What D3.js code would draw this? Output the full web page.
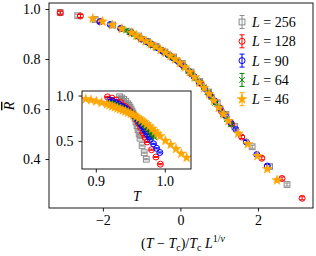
<!DOCTYPE html>
<html><head><meta charset="utf-8">
<script src="https://cdn.jsdelivr.net/npm/d3@7"></script>
<style>
html,body{margin:0;padding:0;background:#fff;}
svg{display:block;}
text{font-family:"Liberation Serif","Times New Roman",serif;}
</style></head>
<body>
<script>
// ---- data ----
const sizes = [256, 128, 90, 64, 46];
// main panel: scaled variable x = (T-Tc)/Tc L^{1/nu}; inset: raw temperature T
const x256 = [-3.1,-2.65,-2.2,-1.75,-1.3,-1.075,-0.85,-0.625,-0.4,-0.175,0.05,0.275,0.5,0.725,0.95,1.175,1.4,1.85,2.3,2.75];
const T256 = [0.9345,0.9375,0.9405,0.9434,0.9464,0.9479,0.9494,0.9509,0.9524,0.9538,0.9553,0.9568,0.9583,0.9598,0.9613,0.9628,0.9642,0.9672,0.9702,0.9732];
const R256 = [0.986,0.973,0.958,0.936,0.909,0.892,0.87,0.85,0.828,0.808,0.782,0.748,0.71,0.668,0.625,0.578,0.53,0.449,0.37,0.298];

const x128 = [-3.1,-2.58,-2.06,-1.54,-1.02,-0.76,-0.5,-0.24,0.02,0.28,0.54,0.8,1.06,1.32,1.58,2.1,2.62,3.14];
const T128 = [0.9169,0.9233,0.9297,0.9361,0.9424,0.9456,0.9488,0.952,0.9552,0.9584,0.9616,0.9648,0.968,0.9712,0.9744,0.9808,0.9872,0.9936];
const R128 = [0.985,0.972,0.95,0.922,0.88,0.858,0.835,0.81,0.78,0.742,0.70,0.648,0.59,0.54,0.488,0.403,0.322,0.243];

const x90 = [-2.08,-1.81,-1.54,-1.27,-1.0,-0.865,-0.73,-0.595,-0.46,-0.325,-0.19,-0.055,0.08,0.215,0.35,0.485,0.62,0.755,0.89,1.025,1.16,1.295,1.43,1.70,1.97,2.24];
const T90 = [0.9199,0.9245,0.929,0.9336,0.9381,0.9404,0.9427,0.945,0.9472,0.9495,0.9518,0.9541,0.9564,0.9586,0.9609,0.9632,0.9655,0.9677,0.97,0.9723,0.9746,0.9769,0.9791,0.9837,0.9882,0.9928];
const R90 = [0.949,0.938,0.922,0.905,0.88,0.869,0.858,0.845,0.832,0.818,0.805,0.79,0.772,0.752,0.73,0.707,0.683,0.658,0.632,0.603,0.574,0.546,0.518,0.468,0.418,0.372];

const x64 = [-1.5,-1.4,-1.3,-1.2,-1.1,-1.0,-0.9,-0.8,-0.7,-0.6,-0.5,-0.4,-0.3,-0.2,-0.1,0,0.1,0.2,0.3,0.4,0.5,0.6,0.7,0.8,0.9,1.0,1.1,1.2,1.3];
const T64 = [0.9207,0.923,0.9252,0.9275,0.9298,0.9321,0.9344,0.9367,0.939,0.9413,0.9436,0.9458,0.9481,0.9504,0.9527,0.955,0.9573,0.9596,0.9619,0.9642,0.9665,0.9687,0.971,0.9733,0.9756,0.9779,0.9802,0.9825,0.9848];
const R64 = [0.92,0.914,0.907,0.898,0.889,0.879,0.87,0.862,0.853,0.845,0.836,0.826,0.815,0.805,0.795,0.782,0.768,0.753,0.738,0.722,0.705,0.687,0.668,0.647,0.625,0.603,0.58,0.559,0.538];

const x46 = [-2.26,-2.01,-1.76,-1.51,-1.26,-1.135,-1.01,-0.885,-0.76,-0.635,-0.51,-0.385,-0.26,-0.135,-0.01,0.115,0.24,0.365,0.49,0.615,0.74,0.865,0.99,1.115,1.24,1.49,1.74,1.99,2.24,2.49];
const T46 = [0.8854,0.8931,0.9008,0.9085,0.9162,0.92,0.9239,0.9277,0.9316,0.9354,0.9393,0.9431,0.947,0.9508,0.9547,0.9585,0.9624,0.9662,0.9701,0.9739,0.9778,0.9816,0.9855,0.9893,0.9932,1.0009,1.0086,1.0163,1.024,1.0317];
const R46 = [0.962,0.95,0.936,0.921,0.905,0.894,0.882,0.871,0.86,0.849,0.837,0.825,0.812,0.799,0.785,0.767,0.748,0.727,0.706,0.684,0.66,0.633,0.605,0.579,0.552,0.502,0.46,0.412,0.36,0.315];

const mainXTicks = [-2, 0, 2];
const mainYTicks = [0.4, 0.6, 0.8, 1.0];
const insetXTicks = [0.9, 1.0];
const insetYTicks = [0.5, 1.0];

const errR = 0.006;

const series = [
  {L:sizes[0], x:x256, T:T256, R:R256, color:"#8c8c8c", sym:"square"},
  {L:sizes[1], x:x128, T:T128, R:R128, color:"#ff0000", sym:"circle"},
  {L:sizes[2], x:x90,  T:T90,  R:R90,  color:"#0000ff", sym:"circle"},
  {L:sizes[3], x:x64,  T:T64,  R:R64,  color:"#008000", sym:"x"},
  {L:sizes[4], x:x46,  T:T46,  R:R46,  color:"#ffa500", sym:"star"}
];

const W = 316, H = 256;
const svg = d3.select("body").append("svg").attr("width", W).attr("height", H);

const xM = d3.scaleLinear().domain([-3.39, 3.42]).range([49, 313]);
const yM = d3.scaleLinear().domain([0.204, 1.024]).range([208, 3]);
const xI = d3.scaleLinear().domain([0.88, 1.038]).range([82, 191]);
const yI = d3.scaleLinear().domain([0.19, 1.05]).range([169, 91]);

function drawMarker(g, s, cx, cy) {
  const c = s.color;
  if (s.sym === "square") {
    g.append("rect").attr("x", cx-2.9).attr("y", cy-2.9).attr("width",5.8).attr("height",5.8)
      .attr("fill","none").attr("stroke",c).attr("stroke-width",1);
  } else if (s.sym === "circle") {
    g.append("circle").attr("cx",cx).attr("cy",cy).attr("r",3)
      .attr("fill","none").attr("stroke",c).attr("stroke-width",1);
  } else if (s.sym === "x") {
    g.append("path").attr("d", d3.symbol(d3.symbolX, 22)())
      .attr("transform",`translate(${cx},${cy})`)
      .attr("fill","none").attr("stroke",c).attr("stroke-width",1);
  } else {
    g.append("path").attr("d", d3.symbol(d3.symbolStar, 30)())
      .attr("transform",`translate(${cx},${cy})`)
      .attr("fill",c).attr("stroke",c).attr("stroke-width",0.5);
  }
}

function drawErr(g, s, cx, y0, y1) {
  g.append("line").attr("x1",cx).attr("x2",cx).attr("y1",y0).attr("y2",y1)
    .attr("stroke",s.color).attr("stroke-width",1);
  [y0,y1].forEach(yy => g.append("line").attr("x1",cx-2.5).attr("x2",cx+2.5)
    .attr("y1",yy).attr("y2",yy).attr("stroke",s.color).attr("stroke-width",1));
}

// ---- main panel ----
const mainG = svg.append("g");
series.forEach(s => {
  const g = mainG.append("g");
  s.x.forEach((xv, i) => {
    const cx = xM(xv), cy = yM(s.R[i]);
    drawErr(g, s, cx, yM(s.R[i]+errR), yM(s.R[i]-errR));
    drawMarker(g, s, cx, cy);
  });
});

// main frame
svg.append("rect").attr("x",49).attr("y",3).attr("width",264).attr("height",205)
  .attr("fill","none").attr("stroke","#000").attr("stroke-width",0.9);

const fmtMinus = d => d3.format("d")(d).replace("-", "\u2212");
const axB = svg.append("g").attr("transform","translate(0,208)")
  .call(d3.axisBottom(xM).tickValues(mainXTicks).tickFormat(fmtMinus).tickSize(3.5).tickSizeOuter(0).tickPadding(4));
const axL = svg.append("g").attr("transform","translate(49,0)")
  .call(d3.axisLeft(yM).tickValues(mainYTicks).tickFormat(d3.format(".1f")).tickSize(3.5).tickSizeOuter(0).tickPadding(5));
[axB, axL].forEach(a => {
  a.select(".domain").remove();
  a.selectAll("text").attr("font-size",14).attr("font-family","Liberation Serif").attr("fill","#000");
  a.selectAll("line").attr("stroke","#000").attr("stroke-width",0.9);
});

// x label
const xl = svg.append("text").attr("x",183).attr("y",248).attr("text-anchor","middle").attr("font-size",14);
xl.append("tspan").text("(");
xl.append("tspan").attr("font-style","italic").text("T");
xl.append("tspan").text(" \u2212 ");
xl.append("tspan").attr("font-style","italic").text("T");
xl.append("tspan").attr("font-size",10).attr("dy",2.5).text("c");
xl.append("tspan").attr("dy",-2.5).text(")/");
xl.append("tspan").attr("font-style","italic").text("T");
xl.append("tspan").attr("font-size",10).attr("dy",2.5).text("c");
xl.append("tspan").attr("dy",-2.5).text(" ");
xl.append("tspan").attr("font-style","italic").text("L");
xl.append("tspan").attr("font-size",10).attr("dy",-6).text("1/");
xl.append("tspan").attr("font-size",10).attr("font-style","italic").text("\u03bd");

// y label
svg.append("text").attr("transform","translate(14,106) rotate(-90)")
  .attr("text-anchor","middle").attr("font-size",14).attr("font-style","italic")
  .style("text-decoration","overline").text("R");

// ---- legend ----
const leg = svg.append("g");
series.forEach((s, i) => {
  const cy = 22 + i*19.3;
  const g = leg.append("g");
  drawErr(g, s, 242, cy-6.5, cy+6.5);
  drawMarker(g, s, 242, cy);
  const t = leg.append("text").attr("x",252).attr("y",cy+5).attr("font-size",14);
  t.append("tspan").attr("font-style","italic").text("L");
  t.append("tspan").text(" = " + s.L);
});

// ---- inset ----
svg.append("rect").attr("x",82).attr("y",91).attr("width",109).attr("height",78).attr("fill","#fff");
svg.append("clipPath").attr("id","ic").append("rect").attr("x",82).attr("y",91).attr("width",109).attr("height",78);
const insG = svg.append("g").attr("clip-path","url(#ic)");
series.forEach(s => {
  const g = insG.append("g");
  s.T.forEach((tv, i) => {
    const cx = xI(tv), cy = yI(s.R[i]);
    drawErr(g, s, cx, yI(s.R[i]+errR), yI(s.R[i]-errR));
    drawMarker(g, s, cx, cy);
  });
});
svg.append("rect").attr("x",82).attr("y",91).attr("width",109).attr("height",78)
  .attr("fill","none").attr("stroke","#000").attr("stroke-width",0.9);
const iaB = svg.append("g").attr("transform","translate(0,169)")
  .call(d3.axisBottom(xI).tickValues(insetXTicks).tickFormat(d3.format(".1f")).tickSize(3.5).tickSizeOuter(0).tickPadding(4));
const iaL = svg.append("g").attr("transform","translate(82,0)")
  .call(d3.axisLeft(yI).tickValues(insetYTicks).tickFormat(d3.format(".1f")).tickSize(3.5).tickSizeOuter(0).tickPadding(5));
[iaB, iaL].forEach(a => {
  a.select(".domain").remove();
  a.selectAll("text").attr("font-size",14).attr("font-family","Liberation Serif").attr("fill","#000");
  a.selectAll("line").attr("stroke","#000").attr("stroke-width",0.9);
});
svg.append("text").attr("x",137).attr("y",201).attr("text-anchor","middle")
  .attr("font-size",14).attr("font-style","italic").text("T");
</script>
</body></html>
